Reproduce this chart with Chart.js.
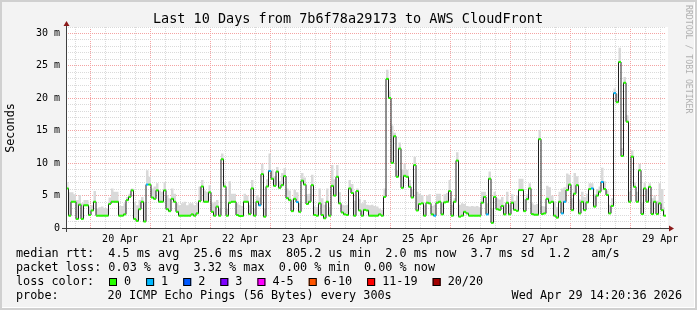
<!DOCTYPE html>
<html>
<head>
<meta charset="utf-8">
<script src="https://cdn.jsdelivr.net/npm/chart.js@4.4.1/dist/chart.umd.min.js"></script>
<style>
  html, body { margin: 0; padding: 0; background: #f3f3f3; }
  #chart { display: block; }
</style>
</head>
<body>
<canvas id="chart" width="697" height="310"></canvas>
<script>
// hourly median rtt in ms, Apr 19 14:20 .. Apr 29 14:20 (240 steps)
const median = [
  6.1, 1.9, 4.05, 4.05, 1.4, 3.6, 1.4, 3.5, 3.5, 2.0,
  2.7, 4.05, 1.9, 1.9, 1.9, 1.9, 1.9, 3.7, 4.05, 4.05,
  4.05, 1.9, 1.9, 2.1, 4.3, 4.8, 5.8, 1.4, 1.1, 2.9,
  4.05, 1.0, 6.7, 6.7, 4.7, 4.5, 5.8, 4.05, 4.05, 5.8,
  2.9, 2.6, 4.5, 4.05, 2.5, 1.9, 1.9, 1.9, 1.9, 1.9,
  2.1, 1.9, 2.25, 4.15, 6.4, 4.05, 4.05, 5.5, 2.5, 1.9,
  3.3, 1.9, 10.6, 6.4, 1.9, 3.9, 4.05, 4.05, 2.0, 1.85,
  1.85, 4.05, 4.05, 2.15, 6.1, 1.9, 4.05, 3.5, 8.3, 1.75,
  6.4, 8.8, 7.6, 6.5, 8.7, 6.2, 6.6, 8.0, 4.6, 4.3,
  2.6, 4.5, 4.0, 2.5, 7.3, 6.7, 3.7, 4.05, 6.6, 2.0,
  1.9, 3.8, 2.0, 1.5, 4.05, 1.9, 6.5, 5.0, 7.9, 3.8,
  2.4, 2.1, 2.0, 6.1, 5.4, 1.9, 5.7, 2.7, 1.9, 2.8,
  2.7, 1.9, 1.9, 1.9, 1.9, 2.1, 1.9, 4.8, 23.0, 20.05,
  10.05, 14.15, 7.9, 12.25, 6.2, 8.05, 7.9, 6.35, 4.7, 9.7,
  2.7, 3.7, 3.8, 1.9, 3.9, 3.8, 2.1, 1.9, 3.9, 4.05,
  2.1, 3.95, 4.05, 5.7, 1.9, 4.05, 10.4, 1.75, 1.9, 2.5,
  2.25, 1.9, 1.9, 1.9, 1.9, 1.9, 3.9, 4.8, 2.1, 7.6,
  0.8, 4.8, 2.9, 2.8, 3.4, 2.1, 3.9, 2.1, 3.9, 2.8,
  2.65, 5.85, 5.85, 2.6, 4.45, 6.1, 2.15, 2.05, 2.05, 13.7,
  2.15, 2.25, 4.5, 3.9, 4.05, 1.9, 1.6, 4.05, 2.25, 4.05,
  5.85, 6.7, 2.75, 5.3, 6.6, 2.25, 4.05, 2.75, 3.95, 6.0,
  6.1, 3.3, 5.0, 5.6, 7.1, 6.0, 5.1, 2.25, 3.4, 20.8,
  19.4, 25.6, 11.1, 22.4, 16.4, 4.05, 11.0, 6.35, 4.05, 8.9,
  2.15, 6.1, 4.05, 6.35, 2.15, 4.05, 2.15, 3.8, 2.75, 1.9
];

// top of the smoke (slowest pings) per hour, ms
const smokeTop = [
  7.1, 5.5, 5.5, 5.2, 4.3, 5.1, 3.8, 4.3, 4.3, 3.3,
  3.5, 5.7, 3.0, 3.2, 3.3, 3.1, 3.0, 4.7, 6.1, 5.6,
  5.6, 3.4, 3.4, 3.8, 4.8, 5.3, 6.1, 4.0, 3.5, 4.3,
  4.8, 4.0, 8.9, 7.9, 6.1, 6.4, 6.9, 5.8, 5.6, 7.1,
  5.1, 4.6, 6.1, 5.3, 3.8, 3.5, 3.8, 4.05, 3.5, 3.8,
  3.8, 3.5, 3.9, 6.4, 7.4, 5.8, 5.6, 6.6, 3.8, 4.05,
  4.3, 3.0, 11.5, 7.0, 3.0, 7.2, 5.3, 5.3, 3.8, 3.6,
  3.4, 5.3, 5.0, 3.5, 7.4, 3.0, 5.1, 4.7, 9.9, 3.0,
  7.5, 11.5, 9.0, 8.0, 9.4, 7.2, 8.5, 9.2, 6.1, 5.8,
  4.5, 5.9, 5.5, 3.8, 8.5, 7.8, 5.2, 5.3, 8.2, 3.3,
  3.2, 6.1, 4.6, 3.6, 6.1, 3.2, 9.7, 7.5, 9.7, 5.5,
  3.6, 3.5, 3.6, 7.4, 6.8, 4.2, 6.1, 4.5, 3.8, 4.3,
  3.6, 3.5, 3.6, 3.4, 3.3, 3.0, 2.8, 6.1, 24.4, 21.2,
  15.8, 14.7, 8.9, 13.2, 9.0, 9.9, 9.0, 7.4, 6.0, 11.0,
  5.6, 5.3, 5.1, 3.5, 5.0, 5.2, 3.4, 3.6, 5.3, 5.3,
  3.8, 5.2, 5.4, 7.4, 3.6, 4.6, 11.7, 3.6, 3.8, 3.7,
  3.4, 3.3, 3.4, 3.3, 3.4, 3.2, 5.6, 5.6, 3.8, 8.7,
  3.0, 5.6, 4.6, 4.4, 4.8, 3.6, 5.6, 3.6, 5.2, 4.2,
  5.0, 7.6, 7.6, 4.5, 5.2, 6.9, 3.8, 3.6, 3.7, 15.1,
  3.4, 3.3, 6.5, 6.3, 5.0, 4.1, 3.2, 5.6, 6.1, 6.3,
  8.4, 8.2, 4.6, 8.5, 8.0, 4.4, 5.6, 4.8, 5.3, 6.9,
  6.9, 5.2, 6.0, 6.4, 9.3, 7.2, 5.8, 3.6, 4.6, 21.5,
  20.7, 27.8, 12.3, 23.3, 17.4, 5.6, 12.0, 7.0, 5.6, 9.9,
  3.8, 7.0, 6.0, 6.9, 4.6, 5.0, 4.2, 6.9, 6.0, 3.2
];

// [hour index, lost pings out of 20]
const lostPings = [
  [32, 1], [77, 1], [81, 1], [92, 1], [147, 1], [168, 1],
  [198, 1], [199, 1], [210, 1], [214, 1], [219, 1]
];

const dayLabels = ["20 Apr", "21 Apr", "22 Apr", "23 Apr", "24 Apr",
                   "25 Apr", "26 Apr", "27 Apr", "28 Apr", "29 Apr"];
const firstMidnight = 9 + 40 / 60; // Apr 20 00:00, hours after the start

const lossLabels = ["0", "1", "2", "3", "4-5", "6-10", "11-19", "20/20"];
const lossColors = ["#26ff00", "#00b8ff", "#0059ff", "#7e00ff", "#ff00ff", "#ff5500", "#ff0000", "#a10000"];
const lossUpper = [0, 1, 2, 3, 5, 10, 19, 20];

const statsRows = [
  "median rtt:  4.5 ms avg  25.6 ms max  805.2 us min  2.0 ms now  3.7 ms sd  1.2   am/s",
  "packet loss: 0.03 % avg  3.32 % max  0.00 % min  0.00 % now"
];
const probeText = "20 ICMP Echo Pings (56 Bytes) every 300s";
const stampText = "Wed Apr 29 14:20:36 2026";
const titleText = "Last 10 Days from 7b6f78a29173 to AWS CloudFront";

const MONO = "'DejaVu Sans Mono', monospace";

function lossColor(n) {
  for (let k = 0; k < lossUpper.length; k++) {
    if (n <= lossUpper[k]) return lossColors[k];
  }
  return lossColors[lossColors.length - 1];
}
const lostByHour = {};
lostPings.forEach(([h, n]) => { lostByHour[h] = n; });

const medianPts = median.map((v, i) => ({ x: i + 0.5, y: v }));
const smokePts = smokeTop.map((v, i) => ({ x: i + 0.5, y: v }));
const markColors = median.map((v, i) => lossColor(lostByHour[i] || 0));

const decor = {
  id: "decor",
  beforeDraw(chart) {
    const { ctx, chartArea: a } = chart;
    ctx.save();
    ctx.fillStyle = "#f3f3f3";
    ctx.fillRect(0, 0, 697, 310);
    ctx.fillStyle = "#ffffff";
    ctx.fillRect(a.left, a.top, a.right - a.left + 2, a.bottom - a.top);
    ctx.restore();
  },
  afterDraw(chart) {
    const { ctx, chartArea: a } = chart;
    ctx.save();
    // axes
    ctx.strokeStyle = "#404040";
    ctx.lineWidth = 1;
    ctx.beginPath();
    ctx.moveTo(62, a.bottom + 0.5);
    ctx.lineTo(a.right + 4, a.bottom + 0.5);
    ctx.moveTo(a.left + 0.5, a.bottom + 4);
    ctx.lineTo(a.left + 0.5, a.top - 2);
    ctx.stroke();
    ctx.fillStyle = "#8b1a1a";
    ctx.beginPath();
    ctx.moveTo(a.left + 0.5, a.top - 6);
    ctx.lineTo(a.left - 2.5, a.top - 1);
    ctx.lineTo(a.left + 3.5, a.top - 1);
    ctx.closePath();
    ctx.fill();
    ctx.beginPath();
    ctx.moveTo(a.right + 8, a.bottom + 0.5);
    ctx.lineTo(a.right + 3, a.bottom - 2.5);
    ctx.lineTo(a.right + 3, a.bottom + 3.5);
    ctx.closePath();
    ctx.fill();

    // title
    ctx.fillStyle = "#000";
    ctx.textBaseline = "middle";
    ctx.textAlign = "center";
    ctx.font = "13.5px " + MONO;
    ctx.fillText(titleText, 348, 19);

    // vertical unit label
    ctx.font = "11.8px " + MONO;
    ctx.save();
    ctx.translate(11, 128);
    ctx.rotate(-Math.PI / 2);
    ctx.fillText("Seconds", 0, 0);
    ctx.restore();

    // watermark
    ctx.save();
    ctx.fillStyle = "#b0b0b0";
    ctx.font = "8.2px " + MONO;
    ctx.translate(688, 5);
    ctx.rotate(Math.PI / 2);
    ctx.textAlign = "left";
    ctx.fillText("RRDTOOL / TOBI OETIKER", 0, 0);
    ctx.restore();

    // legend rows
    ctx.textAlign = "left";
    ctx.font = "11.8px " + MONO;
    ctx.fillText(statsRows[0], 16, 254);
    ctx.fillText(statsRows[1], 16, 268);
    ctx.fillText("loss color:", 16, 282);
    let x = 109;
    lossLabels.forEach((lab, k) => {
      ctx.fillStyle = lossColors[k];
      ctx.fillRect(x, 278, 8, 8);
      ctx.strokeStyle = "#000";
      ctx.strokeRect(x + 0.5, 278.5, 7, 7);
      ctx.fillStyle = "#000";
      ctx.fillText(lab, x + 15, 282);
      x += 15 + ctx.measureText(lab).width + 15;
    });
    ctx.fillText("probe:", 16, 296);
    ctx.fillText(probeText, 107.6, 296);
    ctx.textAlign = "right";
    ctx.fillText(stampText, 682, 296);

    // frame
    ctx.fillStyle = "#d0d0d0";
    ctx.fillRect(0, 0, 697, 2);
    ctx.fillRect(0, 0, 2, 310);
    ctx.fillRect(0, 308, 697, 2);
    ctx.fillRect(695, 0, 2, 310);
    ctx.fillStyle = "#ffffff";
    ctx.fillRect(2, 307, 693, 1);
    ctx.fillRect(694, 2, 1, 305);
    ctx.restore();
  }
};

function nearDay(v, offset) {
  const d = (((v - firstMidnight - offset) % 24) + 24) % 24;
  return Math.min(d, 24 - d) < 0.01;
}
const isMidnight = (v) => nearDay(v, 0);
const isNoon = (v) => nearDay(v, 12);

new Chart(document.getElementById("chart"), {
  type: "line",
  data: {
    datasets: [
      {
        // loss-coloured median marks
        data: medianPts,
        showLine: false,
        pointStyle: "line",
        pointRadius: 1.25,
        pointBorderWidth: 2,
        pointBorderColor: markColors,
        pointBackgroundColor: markColors,
        order: 1
      },
      {
        // median line
        data: medianPts,
        stepped: "middle",
        borderColor: "#202020",
        borderWidth: 1,
        pointRadius: 0,
        fill: false,
        order: 2
      },
      {
        // smoke
        data: smokePts,
        stepped: "middle",
        borderWidth: 0,
        borderColor: "rgba(0,0,0,0)",
        backgroundColor: "#d9d9d9",
        pointRadius: 0,
        fill: 1,
        order: 3
      }
    ]
  },
  options: {
    responsive: false,
    animation: false,
    events: [],
    layout: { padding: { left: 0, right: 31, top: 27, bottom: 62 } },
    plugins: {
      legend: { display: false },
      tooltip: { enabled: false }
    },
    scales: {
      x: {
        type: "linear",
        min: 0,
        max: 240,
        afterBuildTicks(scale) {
          const t = [];
          for (let k = -1; firstMidnight + 6 * k < 240; k++) t.push({ value: firstMidnight + 6 * k });
          scale.ticks = t;
        },
        afterFit(scale) { scale.height = 20; },
        ticks: {
          autoSkip: false,
          maxRotation: 0,
          padding: 5,
          color: "#000",
          font: { family: MONO, size: 10 },
          callback(value) {
            if (!isNoon(value)) return "";
            return dayLabels[Math.round((value - firstMidnight - 12) / 24)];
          }
        },
        grid: {
          drawTicks: false,
          color: (c) => (c.tick && isMidnight(c.tick.value) ? "#f4a3a3" : "#dadada")
        },
        border: { display: false, dash: [1, 1] }
      },
      y: {
        min: 0,
        max: 31,
        afterBuildTicks(scale) {
          const t = [];
          for (let v = 0; v <= 31; v++) t.push({ value: v });
          scale.ticks = t;
        },
        afterFit(scale) { scale.width = 66; },
        ticks: {
          autoSkip: false,
          padding: 6,
          color: "#000",
          font: { family: MONO, size: 10 },
          callback(value) {
            if (value % 5 !== 0) return "";
            return value === 0 ? "0" : value + " m";
          }
        },
        grid: {
          drawTicks: false,
          color: (c) => {
            const v = c.tick ? c.tick.value : 0;
            if (v === 0) return "rgba(0,0,0,0)";
            return v % 5 === 0 ? "#f4a3a3" : "#dadada";
          }
        },
        border: { display: false, dash: [1, 1] }
      }
    }
  },
  plugins: [decor]
});
</script>
</body>
</html>
